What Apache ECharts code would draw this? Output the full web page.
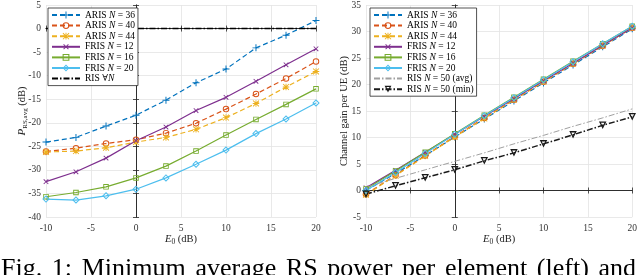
<!DOCTYPE html>
<html><head><meta charset="utf-8">
<script src="https://cdn.jsdelivr.net/npm/echarts@6/dist/echarts.min.js"></script>
<style>html,body{margin:0;padding:0;background:#fff}#c{width:640px;height:275px}</style>
</head><body><div id="c"></div><script>
// ---- data ----
const E0 = [-10, -6.67, -3.33, 0, 3.33, 6.67, 10, 13.33, 16.67, 20];
const xTicks = [-10, 20, 5];
// left: minimum average RS power per element (dB)
const pAris36 = [-24.1, -23.1, -20.7, -18.4, -15.2, -11.5, -8.6, -4.1, -1.4, 1.7];
const pAris40 = [-26.1, -25.4, -24.4, -23.6, -22.2, -20.1, -17.1, -13.9, -10.6, -7.0];
const pAris44 = [-26.2, -26.0, -25.3, -24.1, -23.1, -21.4, -18.9, -15.9, -12.4, -9.1];
const pFris12 = [-32.5, -30.4, -27.5, -23.8, -20.9, -17.4, -14.6, -11.2, -7.7, -4.3];
const pFris16 = [-35.7, -34.8, -33.6, -31.7, -29.2, -26.0, -22.6, -19.3, -16.1, -12.8];
const pFris20 = [-36.2, -36.4, -35.5, -34.1, -31.7, -28.8, -25.8, -22.3, -19.2, -15.8];
const pRisAll = [0, 0, 0, 0, 0, 0, 0, 0, 0, 0];
const leftY = [-40, 5, 5];
// right: channel gain per UE (dB)
const gAris36 = [0.0, 3.2, 6.6, 10.1, 13.5, 16.9, 20.3, 23.7, 27.1, 30.5];
const gAris40 = [-0.7, 2.9, 6.6, 10.2, 13.7, 17.1, 20.5, 23.9, 27.3, 30.7];
const gAris44 = [-0.8, 2.8, 6.5, 10.1, 13.6, 17.1, 20.5, 23.9, 27.3, 30.7];
const gFris12 = [0.5, 3.8, 7.2, 10.6, 14.0, 17.3, 20.7, 24.0, 27.4, 30.7];
const gFris16 = [0.3, 3.7, 7.2, 10.7, 14.2, 17.6, 21.0, 24.4, 27.7, 31.0];
const gFris20 = [0.0, 3.4, 7.0, 10.6, 14.1, 17.5, 20.9, 24.3, 27.7, 31.0];
const gRisAvg = [0.6, 2.3, 3.9, 5.5, 7.1, 8.8, 10.4, 12.1, 13.7, 15.4];
const gRisMin = [-0.7, 0.9, 2.4, 3.9, 5.6, 7.1, 8.8, 10.5, 12.3, 13.9];
const rightY = [-5, 35, 5];
const leftNames = ['ARIS N = 36', 'ARIS N = 40', 'ARIS N = 44', 'FRIS N = 12', 'FRIS N = 16', 'FRIS N = 20', 'RIS \u2200N'];
const rightNames = ['ARIS N = 36', 'ARIS N = 40', 'ARIS N = 44', 'FRIS N = 12', 'FRIS N = 16', 'FRIS N = 20', 'RIS N = 50 (avg)', 'RIS N = 50 (min)'];
const noMarkerNames = ['RIS \u2200N', 'RIS N = 50 (avg)'];
const captionText = 'Fig. 1: Minimum average RS power per element (left) and';

// ---- styles ----
const FONT = '"Liberation Serif","DejaVu Serif",serif';
const C = { blue: '#0072BD', orange: '#D95319', yellow: '#EDB120', purple: '#7E2F8E', green: '#77AC30', cyan: '#4DBEEE', black: '#000', gray: '#a0a0a0' };
const DASH = [5, 3];
const DASHDOT = [6, 2, 1.5, 2];
const PLUS = 'path://M4.3,0H5.7V4.3H10V5.7H5.7V10H4.3V5.7H0V4.3H4.3Z';
const STAR = 'path://M4.3,0H5.7V4.3H10V5.7H5.7V10H4.3V5.7H0V4.3H4.3ZM0,1L1,0L10,9L9,10ZM9,0L10,1L1,10L0,9Z';
const RING = 'path://M5,0A5,5,0,1,1,5,10A5,5,0,1,1,5,0ZM5,1.5A3.5,3.5,0,1,0,5,8.5A3.5,3.5,0,1,0,5,1.5Z';
const SQUARE = 'path://M0,0H10V10H0ZM1.6,1.6V8.4H8.4V1.6Z';
const DIAMOND = 'path://M5,0L10,6L5,12L0,6ZM5,2.3L1.9,6L5,9.7L8.1,6Z';
const TRI = 'path://M0,0L10,0L5,8.7ZM2.7,1.5L5,5.5L7.3,1.5Z';

const sty = {
  'ARIS N = 36': { color: C.blue, dash: DASH, symbol: PLUS, size: 7 },
  'ARIS N = 40': { color: C.orange, dash: DASH, symbol: RING, size: 6.5 },
  'ARIS N = 44': { color: C.yellow, dash: DASH, symbol: STAR, size: 6.5 },
  'FRIS N = 12': { color: C.purple, dash: 'solid', symbol: PLUS, size: 6.5, rot: 45 },
  'FRIS N = 16': { color: C.green, dash: 'solid', symbol: SQUARE, size: 5.5 },
  'FRIS N = 20': { color: C.cyan, dash: 'solid', symbol: DIAMOND, size: 7.5 },
  'RIS \u2200N': { color: C.black, dash: DASHDOT, symbol: 'none', size: 0, width: 1.5 },
  'RIS N = 50 (avg)': { color: C.gray, dash: DASHDOT, symbol: 'none', size: 0, width: 1 },
  'RIS N = 50 (min)': { color: '#1a1a1a', dash: DASHDOT, symbol: TRI, size: 7.5, width: 1.5 }
};

function mk(name, ys, gi) {
  const s = sty[name];
  return {
    type: 'line', name, xAxisIndex: gi * 2, yAxisIndex: gi * 2,
    data: E0.map((x, i) => [x, ys[i]]),
    symbol: s.symbol, symbolSize: s.size, symbolRotate: s.rot || 0, showSymbol: s.symbol !== 'none',
    lineStyle: { color: s.color, width: s.width || 1.2, type: s.dash },
    itemStyle: { color: s.color, borderWidth: 0 }, animation: false, silent: true, z: 2
  };
}

const axisCol = '#262626';
const labelStyle = { fontFamily: FONT, fontSize: 9.5, color: '#333' };
function xAx(gi, top) {
  return {
    type: 'value', gridIndex: gi, position: top ? 'top' : 'bottom',
    min: xTicks[0], max: xTicks[1], interval: xTicks[2],
    axisLine: { show: true, lineStyle: { color: axisCol, width: 0.8 } },
    axisTick: { show: true, inside: true, length: 3, lineStyle: { color: axisCol, width: 0.8 } },
    axisLabel: top ? { show: false } : Object.assign({ margin: 6 }, labelStyle),
    splitLine: top ? { show: false } : { show: true, lineStyle: { color: '#e3e3e3', width: 0.8 } },
    name: top ? '' : '{i|E}{s|0} (dB)', nameLocation: 'middle', nameGap: 15, nameMoveOverlap: false,
    nameTextStyle: { fontFamily: FONT, fontSize: 10.5, color: '#222', lineHeight: 14,
      rich: { i: { fontFamily: FONT, fontStyle: 'italic', fontSize: 10.5, color: '#222', lineHeight: 14 },
              s: { fontFamily: FONT, fontSize: 7.5, color: '#222', verticalAlign: 'bottom', lineHeight: 14 } } }
  };
}
function yAx(gi, right, rng, name, gap) {
  return {
    type: 'value', gridIndex: gi, position: right ? 'right' : 'left',
    min: rng[0], max: rng[1], interval: rng[2],
    axisLine: { show: true, lineStyle: { color: axisCol, width: 0.8 } },
    axisTick: { show: true, inside: true, length: 3, lineStyle: { color: axisCol, width: 0.8 } },
    axisLabel: right ? { show: false } : Object.assign({ margin: 5 }, labelStyle),
    splitLine: right ? { show: false } : { show: true, lineStyle: { color: '#e3e3e3', width: 0.8 } },
    name: right ? '' : name, nameLocation: 'middle', nameGap: gap, nameMoveOverlap: false,
    nameTextStyle: { fontFamily: FONT, fontSize: 10.5, color: '#222', lineHeight: 14,
      rich: { i: { fontFamily: FONT, fontStyle: 'italic', fontSize: 11, color: '#222', lineHeight: 14 },
              s: { fontFamily: FONT, fontSize: 7, color: '#222', verticalAlign: 'bottom', lineHeight: 14 } } }
  };
}
function legendFmt(n) { return n.replace(/N/g, '{i|N}'); }
function lg(names, left) {
  return {
    data: names.map(n => noMarkerNames.includes(n) ? { name: n, itemStyle: { opacity: 0 } } : n),
    orient: 'vertical', left, top: 8, selectedMode: false,
    backgroundColor: '#fff', borderColor: axisCol, borderWidth: 0.8, borderRadius: 0,
    padding: [2, 3, 2, 3], itemGap: 0.6, itemWidth: 28, itemHeight: 8.5,
    formatter: legendFmt,
    textStyle: { fontFamily: FONT, fontSize: 9.5, color: '#000', lineHeight: 9.5,
      rich: { i: { fontFamily: FONT, fontStyle: 'italic', fontSize: 9.5, color: '#000', lineHeight: 9.5 } } }
  };
}

// caption, justified across the width
const ctx = document.createElement('canvas').getContext('2d');
const capSize = 26;
ctx.font = capSize + 'px "Liberation Serif"';
const words = captionText.split(' ');
const widths = words.map(w => ctx.measureText(w).width);
const totalW = widths.reduce((a, b) => a + b, 0);
const gapW = (636 - 1 - totalW) / (words.length - 1);
let cx = 1;
const graphic = words.map((w, i) => {
  const el = { type: 'text', x: cx, y: 269, silent: true,
    style: { text: w, fontFamily: FONT, fontSize: capSize, fill: '#000', verticalAlign: 'middle', align: 'left' } };
  cx += widths[i] + gapW;
  return el;
});

const series = [
  mk('ARIS N = 36', pAris36, 0), mk('ARIS N = 40', pAris40, 0), mk('ARIS N = 44', pAris44, 0),
  mk('FRIS N = 12', pFris12, 0), mk('FRIS N = 16', pFris16, 0), mk('FRIS N = 20', pFris20, 0),
  mk('RIS \u2200N', pRisAll, 0),
  mk('ARIS N = 36', gAris36, 1), mk('ARIS N = 40', gAris40, 1), mk('ARIS N = 44', gAris44, 1),
  mk('FRIS N = 12', gFris12, 1), mk('FRIS N = 16', gFris16, 1), mk('FRIS N = 20', gFris20, 1),
  mk('RIS N = 50 (avg)', gRisAvg, 1), mk('RIS N = 50 (min)', gRisMin, 1)
];

const chart = echarts.init(document.getElementById('c'), null, { renderer: 'canvas' });
chart.setOption({
  animation: false,
  backgroundColor: '#fff',
  grid: [
    { left: 46, right: 324, top: 5, bottom: 58, show: false },
    { left: 366, right: 4, top: 5, bottom: 58, show: false }
  ],
  xAxis: [xAx(0, false), xAx(0, true), xAx(1, false), xAx(1, true)],
  yAxis: [
    yAx(0, false, leftY, '{i|P}{s|RS,avg} (dB)', 17), yAx(0, true, leftY, '', 0),
    yAx(1, false, rightY, 'Channel gain per UE (dB)', 15), yAx(1, true, rightY, '', 0)
  ],
  legend: [lg(leftNames, 48), lg(rightNames, 370)],
  series,
  graphic
});
</script></body></html>
